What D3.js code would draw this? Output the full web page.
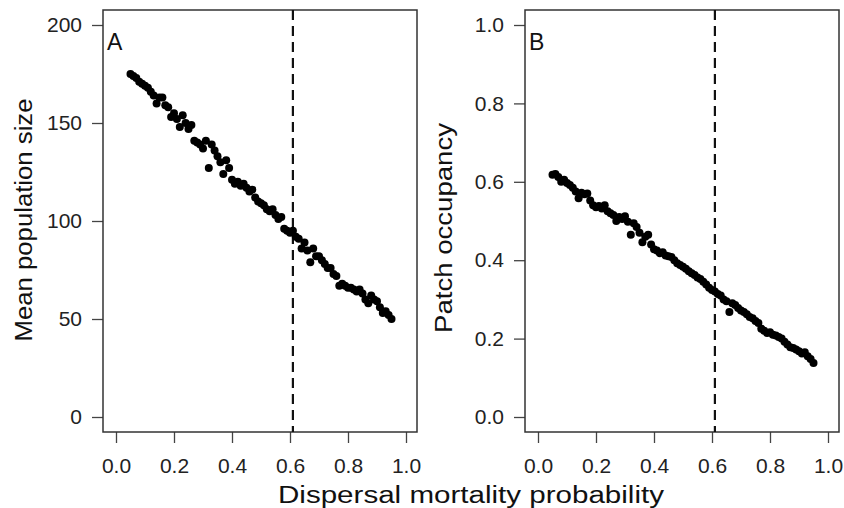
<!DOCTYPE html>
<html>
<head>
<meta charset="utf-8">
<script src="https://cdn.jsdelivr.net/npm/d3@7"></script>
<style>
  body { margin: 0; background: #fff; }
  svg { display: block; }
  .tick text { fill: #222; }
  .tick line { stroke: #444; stroke-width: 1.3; }
</style>
</head>
<body>
<svg id="chart"></svg>
<script>
// dispersal mortality probability (x for both panels)
var mortality = [0.05,0.06,0.07,0.08,0.09,0.10,0.11,0.12,0.13,0.14,
    0.15,0.16,0.17,0.18,0.19,0.20,0.21,0.22,0.23,0.24,
    0.25,0.26,0.27,0.28,0.29,0.30,0.31,0.32,0.33,0.34,
    0.35,0.36,0.37,0.38,0.39,0.40,0.41,0.42,0.43,0.44,
    0.45,0.46,0.47,0.48,0.49,0.50,0.51,0.52,0.53,0.54,
    0.55,0.56,0.57,0.58,0.59,0.60,0.61,0.62,0.63,0.64,
    0.65,0.66,0.67,0.68,0.69,0.70,0.71,0.72,0.73,0.74,
    0.75,0.76,0.77,0.78,0.79,0.80,0.81,0.82,0.83,0.84,
    0.85,0.86,0.87,0.88,0.89,0.90,0.91,0.92,0.93,0.94,0.95];

// panel A
var popSize = [175,174,173,171,170,169,168,166,164,160,
    163,163,159,158,153,155,152,148,154,150,
    147,149,141,140,139,137,141,127,139,136,
    133,130,124,131,127,121,119,120,118,119,
    117,115,116,112,110,109,108,106,105,106,
    103,101,102,96,95,94,95,92,91,86,
    89,85,79,86,82,82,80,78,76,76,
    73,72,67,68,67,66,66,65,64,65,
    63,60,58,62,60,59,56,53,54,52,50];

// panel B
var occupancy = [0.618,0.620,0.612,0.600,0.605,0.597,0.592,0.585,0.575,0.558,
    0.572,0.568,0.570,0.552,0.540,0.535,0.538,0.532,0.540,0.525,
    0.520,0.515,0.500,0.510,0.505,0.512,0.498,0.465,0.494,0.485,
    0.470,0.446,0.460,0.465,0.440,0.428,0.425,0.418,0.420,0.412,
    0.410,0.408,0.400,0.392,0.388,0.383,0.378,0.372,0.367,0.362,
    0.356,0.352,0.345,0.338,0.330,0.324,0.320,0.314,0.310,0.300,
    0.295,0.268,0.290,0.286,0.278,0.272,0.268,0.262,0.255,0.252,
    0.245,0.240,0.225,0.220,0.214,0.216,0.210,0.208,0.204,0.200,
    0.192,0.185,0.178,0.176,0.172,0.168,0.162,0.165,0.155,0.148,0.138];

var xTicks = [0, 0.2, 0.4, 0.6, 0.8, 1.0];
var popTicks = [0, 50, 100, 150, 200];
var occTicks = [0, 0.2, 0.4, 0.6, 0.8, 1.0];
var threshold = 0.61;

var width = 844, height = 508;
var font = "'Liberation Sans', Arial, sans-serif";

var svg = d3.select("#chart")
    .attr("width", width)
    .attr("height", height);

function drawPanel(p) {
    var x = d3.scaleLinear().domain([0, 1]).range([p.x0, p.x0 + 290]);
    var y = d3.scaleLinear().domain(p.yDomain).range([417, 25]);
    var boxL = p.x0 - 13, boxR = p.x0 + 301, boxT = 10, boxB = 432;

    var g = svg.append("g");

    // axes (domain line hidden, box drawn below)
    var xa = g.append("g")
        .attr("transform", "translate(0," + boxB + ")")
        .call(d3.axisBottom(x).tickValues(xTicks).tickSize(11).tickPadding(15)
            .tickFormat(d3.format(".1f")));
    var ya = g.append("g")
        .attr("transform", "translate(" + boxL + ",0)")
        .call(d3.axisLeft(y).tickValues(p.yTicks).tickSize(11).tickPadding(10)
            .tickFormat(p.yFormat));
    [xa, ya].forEach(function(a) {
        a.select(".domain").remove();
        a.selectAll("text")
            .attr("font-family", font)
            .attr("font-size", 21);
    });

    g.append("rect")
        .attr("x", boxL).attr("y", boxT)
        .attr("width", boxR - boxL).attr("height", boxB - boxT)
        .attr("fill", "none")
        .attr("stroke", "#333")
        .attr("stroke-width", 1.5);

    g.append("line")
        .attr("x1", x(threshold)).attr("x2", x(threshold))
        .attr("y1", boxT).attr("y2", boxB)
        .attr("stroke", "#111")
        .attr("stroke-width", 2.2)
        .attr("stroke-dasharray", "10,6");

    g.selectAll("circle")
        .data(p.values)
        .enter().append("circle")
            .attr("cx", function(d, i) { return x(mortality[i]); })
            .attr("cy", function(d) { return y(d); })
            .attr("r", 4)
            .attr("fill", "#000");

    // panel letter
    g.append("text")
        .attr("x", boxL + 4).attr("y", 50)
        .attr("font-family", font)
        .attr("font-size", 23)
        .attr("fill", "#111")
        .text(p.letter);

    // y title
    g.append("text")
        .attr("transform", "translate(" + p.titleX + "," + p.titleY + ") rotate(-90)")
        .attr("text-anchor", "middle")
        .attr("font-family", font)
        .attr("font-size", 23)
        .attr("textLength", p.titleLen)
        .attr("lengthAdjust", "spacingAndGlyphs")
        .attr("fill", "#111")
        .text(p.title);
}

drawPanel({
    x0: 116, values: popSize, yDomain: [0, 200], yTicks: popTicks,
    yFormat: d3.format("d"), letter: "A",
    title: "Mean population size", titleX: 32, titleY: 220, titleLen: 243
});
drawPanel({
    x0: 538, values: occupancy, yDomain: [0, 1], yTicks: occTicks,
    yFormat: d3.format(".1f"), letter: "B",
    title: "Patch occupancy", titleX: 452, titleY: 228, titleLen: 210
});

svg.append("text")
    .attr("x", 471).attr("y", 503)
    .attr("text-anchor", "middle")
    .attr("font-family", font)
    .attr("font-size", 23)
    .attr("textLength", 386)
    .attr("lengthAdjust", "spacingAndGlyphs")
    .attr("fill", "#111")
    .text("Dispersal mortality probability");
</script>
</body>
</html>
